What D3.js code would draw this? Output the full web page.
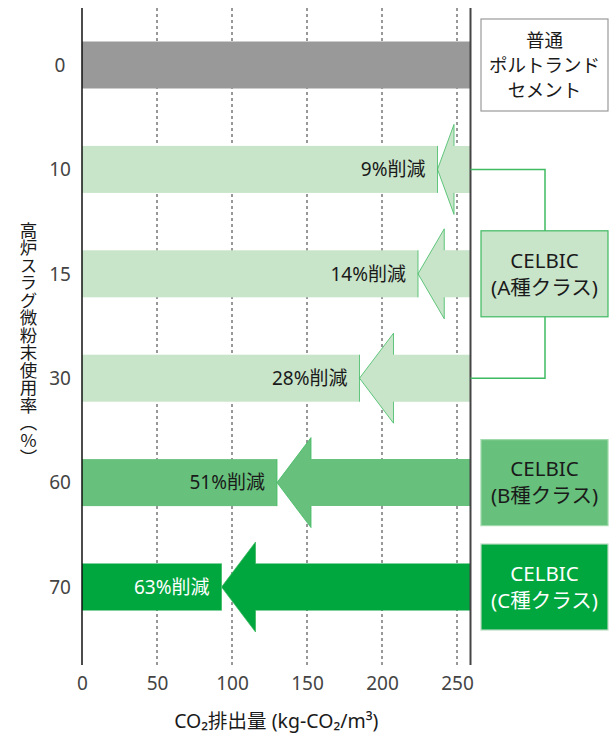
<!DOCTYPE html>
<html>
<head>
<meta charset="utf-8">
<script src="https://cdn.jsdelivr.net/npm/d3@7"></script>
<style>
  body { margin: 0; background: #fff; }
  text { font-family: "Noto Sans", "Noto Sans CJK JP", sans-serif; }
</style>
</head>
<body>
<div id="chart"></div>
<script>
// data
const rates = ["0", "10", "15", "30", "60", "70"];
const emissions = [259, 237, 224, 185, 130, 93];
const reductionLabels = ["", "9%削減", "14%削減", "28%削減", "51%削減", "63%削減"];
const xTicks = [0, 50, 100, 150, 200, 250];
const rowColors = ["#999999", "#c8e4c9", "#c8e4c9", "#c8e4c9", "#67c07c", "#00a63e"];
const labelColors = ["#1a1a1a", "#1a1a1a", "#1a1a1a", "#1a1a1a", "#1a1a1a", "#fff"];

const legendBoxes = [
  {lines: ["普通", "ポルトランド", "セメント"], row: "0", fill: "#fff", stroke: "#9a9a9a", text: "#1a1a1a"},
  {lines: ["CELBIC", "(A種クラス)"], row: "15", fill: "#c8e4c9", stroke: "#3fba62", text: "#1a1a1a"},
  {lines: ["CELBIC", "(B種クラス)"], row: "60", fill: "#67c07c", stroke: "#9fd9ac", text: "#1a1a1a"},
  {lines: ["CELBIC", "(C種クラス)"], row: "70", fill: "#00a63e", stroke: "#b9dcc1", text: "#fff"}
];

const width = 610, height = 735;
const svg = d3.select("#chart").append("svg")
  .attr("width", width)
  .attr("height", height);

const x = d3.scaleLinear().domain([0, 250]).range([82, 457]);
const y = d3.scalePoint().domain(rates).range([65, 587]);
const barH = 47, headHalf = 45;
const plotTop = 8, plotBottom = 665;
const base = emissions[0];

// dashed gridlines
svg.append("g")
  .selectAll("line")
  .data(xTicks.slice(1))
  .join("line")
  .attr("x1", d => x(d)).attr("x2", d => x(d))
  .attr("y1", plotTop).attr("y2", plotBottom)
  .attr("stroke", "#333")
  .attr("stroke-width", 1)
  .attr("stroke-dasharray", "3,3");

// bars
svg.append("g")
  .selectAll("rect")
  .data(rates)
  .join("rect")
  .attr("x", x(0))
  .attr("y", d => y(d) - barH / 2)
  .attr("width", (d, i) => x(emissions[i]) - x(0))
  .attr("height", barH)
  .attr("fill", (d, i) => rowColors[i]);

// reduction arrows (from base value to the row's value)
const arrows = svg.append("g");
rates.forEach((r, i) => {
  if (i === 0) return;
  const tip = x(emissions[i]), end = x(base), cy = y(r);
  const len = end - tip;
  const head = Math.min(len * 0.5, 34);
  const back = tip + head;
  const pts = [
    [end, cy - barH / 2], [back, cy - barH / 2], [back, cy - headHalf],
    [tip, cy], [back, cy + headHalf], [back, cy + barH / 2], [end, cy + barH / 2]
  ];
  arrows.append("polygon")
    .attr("points", pts.map(p => p.join(",")).join(" "))
    .attr("fill", rowColors[i]);
  arrows.append("polyline")
    .attr("points", pts.slice(1, 6).map(p => p.join(",")).join(" "))
    .attr("fill", "none")
    .attr("stroke", "#3fba62")
    .attr("stroke-width", 0.8);
  arrows.append("line")
    .attr("x1", tip).attr("x2", tip)
    .attr("y1", cy - barH / 2).attr("y2", cy + barH / 2)
    .attr("stroke", "#3fba62")
    .attr("stroke-width", 0.8);
});

// reduction labels
svg.append("g")
  .selectAll("text")
  .data(rates)
  .join("text")
  .attr("x", (d, i) => x(emissions[i]) - 12)
  .attr("y", d => y(d))
  .attr("dy", "0.36em")
  .attr("text-anchor", "end")
  .attr("font-size", 19)
  .attr("fill", (d, i) => labelColors[i])
  .text((d, i) => reductionLabels[i]);

// axis lines
svg.append("line")
  .attr("x1", x(0)).attr("x2", x(0))
  .attr("y1", plotTop).attr("y2", plotBottom)
  .attr("stroke", "#111").attr("stroke-width", 1.5);
svg.append("line")
  .attr("x1", x(base)).attr("x2", x(base))
  .attr("y1", plotTop).attr("y2", plotBottom)
  .attr("stroke", "#444").attr("stroke-width", 2);

// bracket joining rows 10 and 30 to the A-class box
svg.append("polyline")
  .attr("points", [[x(base), y("10")], [545, y("10")], [545, y("30")], [x(base), y("30")]]
    .map(p => p.join(",")).join(" "))
  .attr("fill", "none")
  .attr("stroke", "#3fba62")
  .attr("stroke-width", 1.5);

// x axis labels
const xAxis = svg.append("g")
  .attr("transform", `translate(0, ${plotBottom + 11})`)
  .call(d3.axisBottom(x).tickValues(xTicks).tickSize(0).tickPadding(0));
xAxis.select(".domain").remove();
xAxis.selectAll("text")
  .attr("font-size", 19)
  .attr("fill", "#444")
  .attr("font-family", "\"Noto Sans\", \"Noto Sans CJK JP\", sans-serif");

svg.append("text")
  .attr("x", (x(0) + x(base)) / 2)
  .attr("y", 721)
  .attr("dy", "0.36em")
  .attr("text-anchor", "middle")
  .attr("font-size", 19.5)
  .attr("fill", "#1a1a1a")
  .text("CO₂排出量 (kg-CO₂/m³)");

// y labels
svg.append("g")
  .selectAll("text")
  .data(rates)
  .join("text")
  .attr("x", 60)
  .attr("y", d => y(d))
  .attr("dy", "0.36em")
  .attr("text-anchor", "middle")
  .attr("font-size", 19)
  .attr("fill", "#444")
  .text(d => d);

svg.append("text")
  .attr("x", 28)
  .attr("y", 344)
  .attr("text-anchor", "middle")
  .attr("font-size", 17.5)
  .attr("fill", "#1a1a1a")
  .style("writing-mode", "vertical-rl")
  .text("高炉スラグ微粉末使用率（％）");

// legend boxes
const boxes = svg.append("g")
  .selectAll("g")
  .data(legendBoxes)
  .join("g")
  .attr("transform", d => `translate(481, ${y(d.row)})`);

boxes.append("rect")
  .attr("x", 0)
  .attr("y", d => d.lines.length === 3 ? -46 : -43)
  .attr("width", 127)
  .attr("height", d => d.lines.length === 3 ? 92 : 86)
  .attr("fill", d => d.fill)
  .attr("stroke", d => d.stroke)
  .attr("stroke-width", 1.2);

boxes.each(function(d) {
  const g = d3.select(this);
  const n = d.lines.length;
  const step = n === 3 ? 25 : 27;
  d.lines.forEach((t, i) => {
    g.append("text")
      .attr("x", 63.5)
      .attr("y", (i - (n - 1) / 2) * step)
      .attr("dy", "0.36em")
      .attr("text-anchor", "middle")
      .attr("font-size", n === 3 ? 18.5 : 20.5)
      .attr("fill", d.text)
      .text(t);
  });
});
</script>
</body>
</html>
